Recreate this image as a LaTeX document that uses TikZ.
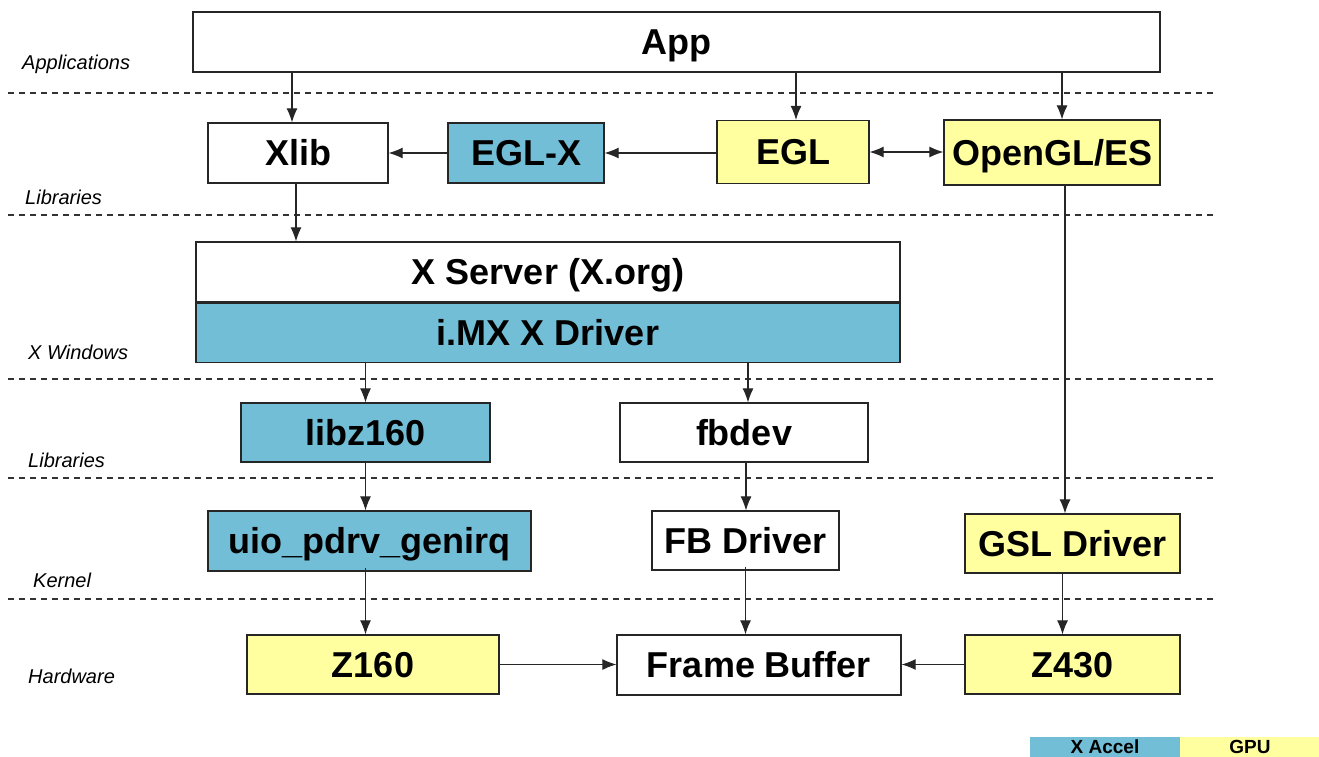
\documentclass[tikz,border=0pt]{standalone}
\usepackage{fontspec}
\setmainfont{Liberation Sans}
\usetikzlibrary{positioning,calc,arrows.meta}
\definecolor{xaccelblue}{HTML}{72BED6}
\definecolor{gpuyellow}{HTML}{FFFFA0}

\begin{document}
\begin{tikzpicture}[x=1pt, y=-1pt,
    box/.style={rectangle, draw=black!85, line width=1.2pt, inner sep=0pt, text height=25.8pt, text depth=0pt, font=\bfseries\fontsize{36}{38}\selectfont},
    xaccel/.style={box, fill=xaccelblue},
    gpu/.style={box, fill=gpuyellow},
    arrow/.style={-{Latex[length=14pt,width=11pt]}, line width=1.1pt, black!85},
    twoway/.style={{Latex[length=14pt,width=11pt]}-{Latex[length=14pt,width=11pt]}, line width=1.1pt, black!85},
    sep/.style={line width=1.1pt, black!80, dash pattern=on 6pt off 5pt},
    layer/.style={anchor=base west, inner sep=0pt, font=\itshape\fontsize{20}{22}\selectfont},
    legend/.style={rectangle, inner sep=0pt, minimum height=20, text height=13.6pt, text depth=0pt, font=\bfseries\fontsize{19}{21}\selectfont}
]
    \useasboundingbox (0,0) rectangle (1319,757);

    % layer separators
    \foreach \y in {93,215,379,478,599}
        \draw[sep] (8,\y) -- (1215,\y);

    % layer labels
    \node[layer] (lapp) at (22,70) {Applications};
    \node[layer] (llib) at (25,204) {Libraries};
    \node[layer] (lxw) at (28,359) {X Windows};
    \node[layer] (llib2) at (28,467) {Libraries};
    \node[layer] (lker) at (33,587) {Kernel};
    \node[layer] (lhw) at (28,683) {Hardware};

    % applications
    \node[box, minimum width=967, minimum height=60] (app) at (676.5,42) {App};

    % libraries
    \node[box, minimum width=180, minimum height=60] (xlib) at (298,153) {Xlib};
    \node[xaccel, minimum width=156, minimum height=60] (eglx) at (526,153) {EGL-X};
    \node[gpu, minimum width=152, minimum height=63] (egl) at (793,152) {EGL};
    \node[gpu, minimum width=216, minimum height=65] (gles) at (1052,152.5) {OpenGL/ES};

    % x windows
    \node[box, minimum width=704, minimum height=60] (xserver) at (548,272) {X Server (X.org)};
    \node[xaccel, minimum width=704, minimum height=59, below=0pt of xserver] (imx) {i.MX X Driver};

    % libraries
    \node[xaccel, minimum width=249, minimum height=59] (libz) at (365.5,432.5) {libz160};
    \node[box, minimum width=248, minimum height=59] (fbdev) at (744,432.5) {fbdev};

    % kernel
    \node[xaccel, minimum width=323, minimum height=60] (uio) at (369.5,541) {uio\_pdrv\_genirq};
    \node[box, minimum width=187, minimum height=59] (fbdrv) at (745.5,540.5) {FB Driver};
    \node[gpu, minimum width=215, minimum height=59] (gsl) at (1072.5,543.5) {GSL Driver};

    % hardware
    \node[gpu, minimum width=252, minimum height=59] (z160) at (373,664.5) {Z160};
    \node[box, minimum width=284, minimum height=60] (fb) at (759,665) {Frame Buffer};
    \node[gpu, minimum width=215, minimum height=59] (z430) at (1072.5,664.5) {Z430};

    % connectors
    \draw[arrow] ([xshift=-6]xlib.north |- app.south) -- ([xshift=-6]xlib.north);
    \draw[arrow] ([xshift=3]egl.north |- app.south) -- ([xshift=3]egl.north);
    \draw[arrow] ([xshift=10]gles.north |- app.south) -- ([xshift=10]gles.north);
    \draw[arrow] (egl.west |- eglx.east) -- (eglx.east);
    \draw[arrow] (eglx.west) -- (xlib.east);
    \draw[twoway] (egl.east) -- (gles.west |- egl.east);
    \draw[arrow] ([xshift=-2]xlib.south) -- ([xshift=-2]xlib.south |- xserver.north);
    \draw[arrow] ([xshift=13]gles.south) -- ([xshift=13]gles.south |- gsl.north);
    \draw[arrow] (libz.north |- imx.south) -- (libz.north);
    \draw[arrow] ([xshift=4]fbdev.north |- imx.south) -- ([xshift=4]fbdev.north);
    \draw[arrow] (libz.south) -- (libz.south |- uio.north);
    \draw[arrow] ([xshift=2]fbdev.south) -- ([xshift=2]fbdev.south |- fbdrv.north);
    \draw[arrow] ([yshift=4]libz.south |- uio.south) -- (libz.south |- z160.north);
    \draw[arrow] ([yshift=4]fbdrv.south) -- (fbdrv.south |- fb.north);
    \draw[arrow] ([xshift=-10]gsl.south) -- ([xshift=-10]gsl.south |- z430.north);
    \draw[arrow] (z160.east) -- (fb.west |- z160.east);
    \draw[arrow] (z430.west) -- (fb.east |- z430.west);

    % legend
    \node[legend, fill=xaccelblue, minimum width=150] (lgaccel) at (1105,747) {X Accel};
    \node[legend, fill=gpuyellow, minimum width=139, right=0pt of lgaccel] (lggpu) {GPU};
\end{tikzpicture}
\end{document}
